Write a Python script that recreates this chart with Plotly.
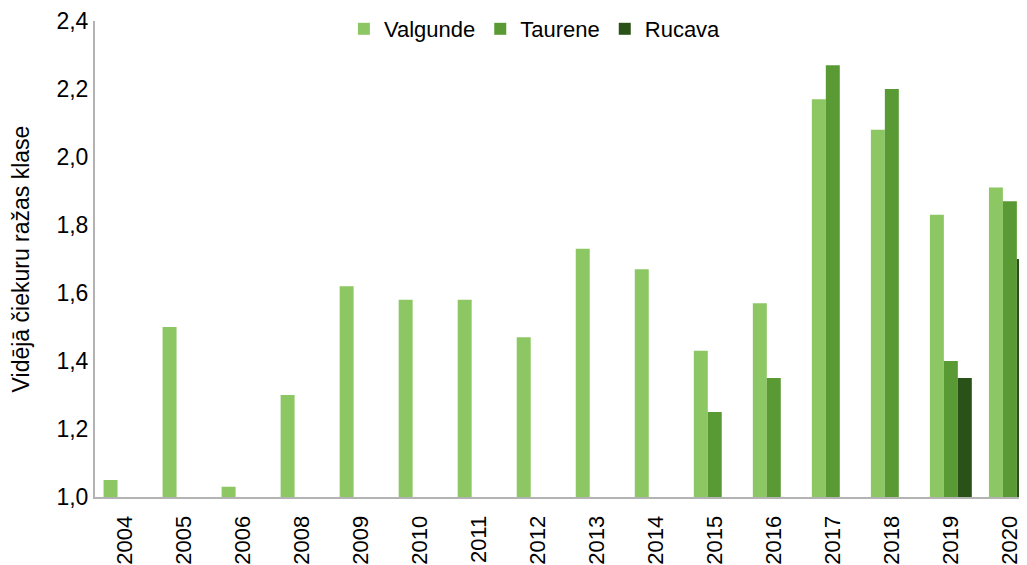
import plotly.graph_objects as go

years = ["2004", "2005", "2006", "2008", "2009", "2010", "2011", "2012",
         "2013", "2014", "2015", "2016", "2017", "2018", "2019", "2020"]
valgunde = [1.05, 1.50, 1.03, 1.30, 1.62, 1.58, 1.58, 1.47,
            1.73, 1.67, 1.43, 1.57, 2.17, 2.08, 1.83, 1.91]
taurene = [None, None, None, None, None, None, None, None,
           None, None, 1.25, 1.35, 2.27, 2.20, 1.40, 1.87]
rucava = [None, None, None, None, None, None, None, None,
          None, None, None, None, None, None, 1.35, 1.70]

colors = {"Valgunde": "#8CC763", "Taurene": "#5A9A35", "Rucava": "#2A5218"}

fig = go.Figure()
for name, vals in [("Valgunde", valgunde), ("Taurene", taurene), ("Rucava", rucava)]:
    fig.add_trace(go.Bar(x=years, y=vals, name=name, marker_color=colors[name],
                         marker_line_width=0))

font_family = "Liberation Sans, Arial, sans-serif"
# page body has an 8px margin, so the figure is sized to fit the 1027x565 window
fig.update_layout(
    width=1019, height=557,
    margin=dict(l=87, r=0, t=12, b=68),
    paper_bgcolor="white", plot_bgcolor="white",
    barmode="group", bargap=0.29, bargroupgap=0,
    separators=", ",
    font=dict(family=font_family, size=22, color="#000000"),
    legend=dict(orientation="h", x=0.472, xanchor="center", y=0.983, yanchor="middle",
                bgcolor="rgba(0,0,0,0)", font=dict(size=22), itemwidth=30,
                traceorder="normal"),
    xaxis=dict(type="category", range=[-0.5, 15.29], showline=True, linecolor="#b3b3b3",
               linewidth=2, showgrid=False, ticks="", tickangle=-90,
               tickfont=dict(size=22), ticklabelstandoff=8, fixedrange=True),
    yaxis=dict(range=[1.0, 2.4], dtick=0.2, tickformat=".1f", showline=True,
               linecolor="#b3b3b3", linewidth=2, showgrid=False, zeroline=False,
               ticks="", tickfont=dict(size=23),
               title=dict(text="Vidējā čiekuru ražas klase", font=dict(size=23), standoff=20)),
)

fig.write_html("out.html")
